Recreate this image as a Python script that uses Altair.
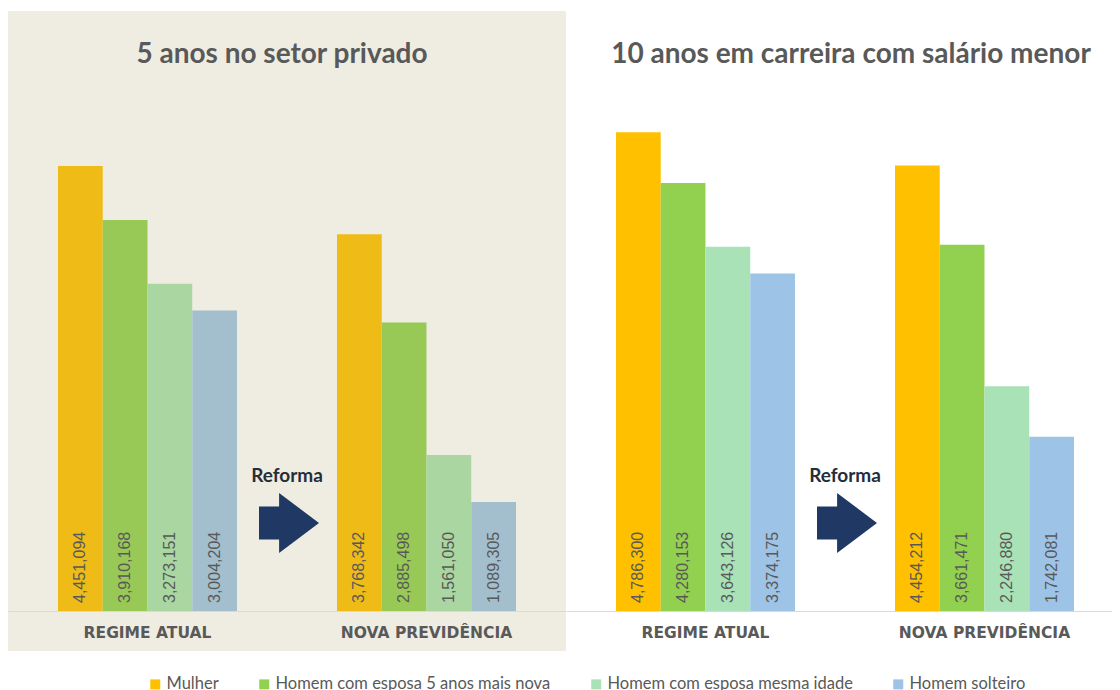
import altair as alt
import pandas as pd

groups = ["REGIME ATUAL", "NOVA PREVIDÊNCIA"]
series = ["Mulher", "Homem com esposa 5 anos mais nova",
          "Homem com esposa mesma idade", "Homem solteiro"]
privado_atual = [4451094, 3910168, 3273151, 3004204]
privado_nova = [3768342, 2885498, 1561050, 1089305]
carreira_atual = [4786300, 4280153, 3643126, 3374175]
carreira_nova = [4454212, 3661471, 2246880, 1742081]
panel_titles = ["5 anos no setor privado", "10 anos em carreira com salário menor"]
arrow_label = "Reforma"
colors_muted = ["#EFBC17", "#98C956", "#A9D6A1", "#A3BFCE"]
colors_vivid = ["#FFC000", "#92D050", "#A9E2B7", "#9DC3E6"]

ARROW = "M-1,-0.55 L-0.33,-0.55 L-0.33,-1 L1,0 L-0.33,1 L-0.33,0.55 L-1,0.55 Z"


def frame(atual, nova):
    rows = []
    for g, vals in zip(groups, [atual, nova]):
        for s, v in zip(series, vals):
            rows.append({"grupo": g, "serie": s, "valor": v})
    return pd.DataFrame(rows)


def panel(df, title, width, colors, use_color, bg, title_dx, po, align):
    xscale = alt.Scale(paddingInner=100 / 279, paddingOuter=po, align=align)
    xaxis = alt.Axis(labelAngle=0, ticks=False, domainColor="#d9d9d9",
                     labelFont="DejaVu Sans", labelFontWeight="bold",
                     labelFontSize=15.5, labelColor="#595959", labelPadding=14,
                     zindex=1, grid=False)
    x = alt.X("grupo:N", sort=groups, title=None, scale=xscale, axis=xaxis)
    xo = alt.XOffset("serie:N", sort=series,
                     scale=alt.Scale(paddingInner=0, paddingOuter=0))
    y = alt.Y("valor:Q", scale=alt.Scale(domain=[0, 5000000], nice=False), axis=None)

    back = alt.Chart(alt.Data(values=[{}])).mark_rect(fill=bg).encode(
        x=alt.value(0), x2=alt.value(width), y=alt.value(-100), y2=alt.value(540))

    if use_color:
        col = alt.Color("serie:N", scale=alt.Scale(domain=series, range=colors),
                        legend=alt.Legend(title=None, orient="none", legendX=139,
                                          legendY=565, direction="horizontal",
                                          columns=4, symbolType="square",
                                          symbolSize=100, symbolStrokeWidth=0,
                                          labelFont="Lato", labelFontSize=16.5,
                                          labelColor="#595959", columnPadding=37,
                                          labelOffset=3, labelLimit=400, zindex=2))
        bars = alt.Chart(df).mark_bar(strokeWidth=0).encode(x=x, xOffset=xo, y=y, color=col)
    else:
        fil = alt.Fill("serie:N", sort=series, scale=alt.Scale(range=colors), legend=None)
        bars = alt.Chart(df).mark_bar(strokeWidth=0).encode(x=x, xOffset=xo, y=y, fill=fil)

    labels = alt.Chart(df).mark_text(angle=270, align="left", baseline="middle", dx=8,
                                     font="Liberation Sans", fontSize=16,
                                     color="#595959").encode(
        x=x, xOffset=xo, y=alt.datum(0), text=alt.Text("valor:Q", format=","))

    note = alt.Chart(alt.Data(values=[{}])).mark_text(
        text=arrow_label, font="Lato", fontWeight="bold", fontSize=19,
        color="#262D3A").encode(x=alt.value(279), y=alt.value(365))

    arrow = alt.Chart(alt.Data(values=[{}])).mark_point(
        shape=ARROW, size=3600, filled=True, fill="#1F3864", opacity=1,
        strokeWidth=0).encode(x=alt.value(281), y=alt.value(412))

    return alt.layer(back, bars, labels, note, arrow).properties(
        width=width, height=500,
        title=alt.TitleParams(title, anchor="middle", frame="group", offset=-80,
                              baseline="alphabetic", font="Lato", fontSize=28,
                              fontWeight="bold", color="#595959", dx=title_dx))


left = panel(frame(privado_atual, privado_nova), panel_titles[0], 558,
             colors_muted, False, "#EFEDE2", -5, 50 / 279, 0.5)
right = panel(frame(carreira_atual, carreira_nova), panel_titles[1], 546,
              colors_vivid, True, "#FFFFFF", 12, 0.1577, 0.568)

chart = alt.hconcat(left, right, spacing=0).configure_view(stroke=None).properties(
    padding={"left": 0, "top": 3, "right": 0, "bottom": 0}, background="white")

chart.save("out.html", embed_options={"renderer": "svg", "actions": False})
